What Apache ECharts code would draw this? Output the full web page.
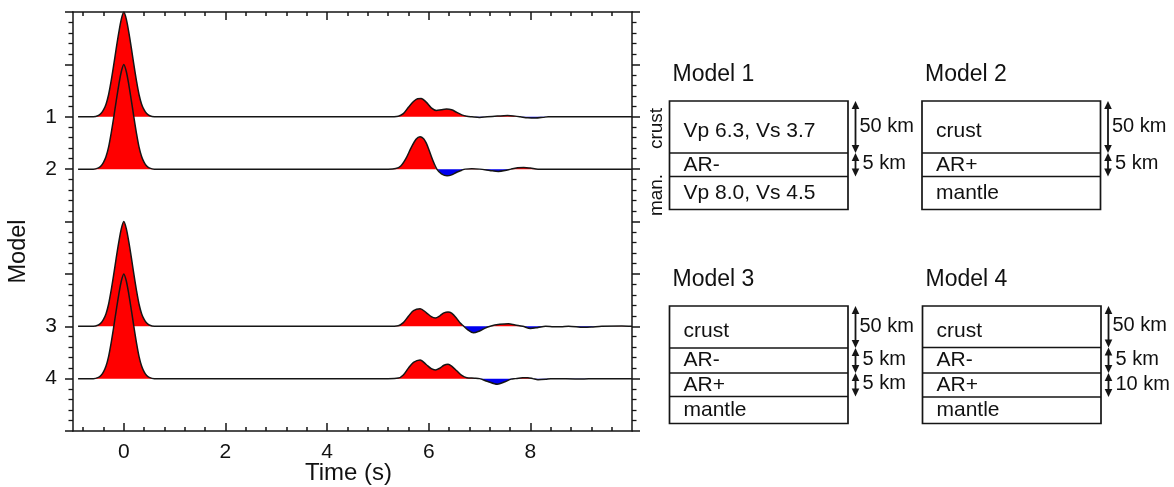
<!DOCTYPE html>
<html>
<head>
<meta charset="utf-8">
<script src="https://cdn.jsdelivr.net/npm/echarts@6/dist/echarts.min.js"></script>
<style>
  html, body { margin: 0; padding: 0; background: #ffffff; }
  #chart { width: 1174px; height: 487px; }
</style>
</head>
<body>
<div id="chart"></div>
<script>
// ---- Synthetic receiver functions: [time (s), amplitude normalised to direct P] ----
const directP = [
  [-0.9, 0], [-0.6, 0], [-0.5, 0.012], [-0.45, 0.03], [-0.4, 0.065], [-0.35, 0.12],
  [-0.3, 0.21], [-0.25, 0.34], [-0.2, 0.49], [-0.15, 0.65], [-0.1, 0.8], [-0.05, 0.93],
  [0, 1], [0.05, 0.93], [0.1, 0.8], [0.15, 0.65], [0.2, 0.49], [0.25, 0.34],
  [0.3, 0.21], [0.35, 0.12], [0.4, 0.065], [0.45, 0.03], [0.5, 0.012], [0.6, 0]
];
const model1Late = [
  [5.2, 0], [5.4, 0.005], [5.5, 0.03], [5.6, 0.09], [5.7, 0.145], [5.78, 0.172], [5.85, 0.174],
  [5.95, 0.14], [6.05, 0.085], [6.15, 0.06], [6.25, 0.067], [6.35, 0.073], [6.45, 0.066],
  [6.55, 0.042], [6.65, 0.018], [6.75, 0.005], [6.85, 0], [7.0, -0.006], [7.15, 0],
  [7.35, 0.006], [7.55, 0.012], [7.7, 0.006], [7.8, 0], [7.95, -0.01], [8.1, -0.013],
  [8.25, -0.006], [8.35, 0], [10, 0]
];
const model2Late = [
  [5.2, 0], [5.35, 0.005], [5.45, 0.03], [5.55, 0.1], [5.65, 0.2], [5.75, 0.285], [5.83, 0.31],
  [5.9, 0.29], [5.95, 0.25], [6.0, 0.19], [6.08, 0.085], [6.16, 0], [6.25, -0.045],
  [6.36, -0.064], [6.45, -0.055], [6.55, -0.03], [6.65, -0.01], [6.72, 0], [6.85, 0.003],
  [7.0, 0], [7.2, -0.012], [7.37, -0.022], [7.5, -0.014], [7.62, 0], [7.75, 0.012],
  [7.87, 0.016], [8.0, 0.01], [8.15, 0], [10, 0]
];
const model3Late = [
  [5.2, 0], [5.4, 0.005], [5.5, 0.035], [5.6, 0.095], [5.7, 0.15], [5.83, 0.168], [5.95, 0.13],
  [6.05, 0.092], [6.13, 0.079], [6.22, 0.1], [6.3, 0.128], [6.38, 0.137], [6.45, 0.125],
  [6.55, 0.075], [6.62, 0.03], [6.69, 0], [6.77, -0.035], [6.88, -0.063], [7.0, -0.045],
  [7.1, -0.02], [7.21, 0], [7.4, 0.018], [7.57, 0.025], [7.7, 0.012], [7.85, 0],
  [8.0, -0.022], [8.15, -0.012], [8.3, 0], [8.45, -0.004], [8.6, -0.005], [8.75, 0],
  [9.05, -0.01], [9.2, -0.007], [9.4, 0], [9.8, 0.003], [10, 0]
];
const model4Late = [
  [5.2, 0], [5.4, 0.005], [5.5, 0.035], [5.6, 0.1], [5.7, 0.155], [5.83, 0.178], [5.95, 0.135],
  [6.05, 0.095], [6.13, 0.083], [6.22, 0.1], [6.3, 0.128], [6.38, 0.137], [6.45, 0.12],
  [6.55, 0.075], [6.65, 0.03], [6.75, 0.008], [6.9, 0.004], [7.0, 0], [7.15, -0.025],
  [7.35, -0.054], [7.5, -0.03], [7.62, -0.005], [7.7, 0], [7.85, 0.008], [7.95, 0.009],
  [8.05, 0], [8.15, -0.01], [8.3, -0.006], [8.4, 0], [9.0, -0.004], [9.3, 0], [10, 0]
];

// Trace baselines on the vertical axis and their labels
const modelOffsets = [1, 2, 5, 6];
const modelLabels = ['1', '2', '3', '4'];

// Time axis ticks and title
const timeMajorTicks = [0, 2, 4, 6, 8];
const timeMinorTicks = [-0.8, -0.4, 0, 0.4, 0.8, 1.2, 1.6, 2, 2.4, 2.8, 3.2, 3.6, 4, 4.4, 4.8,
  5.2, 5.6, 6, 6.4, 6.8, 7.2, 7.6, 8, 8.4, 8.8, 9.2, 9.6];
const timeTitle = 'Time (s)';

// Velocity model sketches
const modelTitles = ['Model 1', 'Model 2', 'Model 3', 'Model 4'];
const modelLayers = [
  ['Vp 6.3, Vs 3.7', 'AR-', 'Vp 8.0, Vs 4.5'],
  ['crust', 'AR+', 'mantle'],
  ['crust', 'AR-', 'AR+', 'mantle'],
  ['crust', 'AR-', 'AR+', 'mantle']
];
const layerThickness = [
  ['50 km', '5 km'],
  ['50 km', '5 km'],
  ['50 km', '5 km', '5 km'],
  ['50 km', '5 km', '10 km']
];
const model1SideLabels = ['crust', 'man.'];

// ---- Layout and style ----
const FONT = "'Liberation Sans', Arial, Helvetica, sans-serif";
const INK = '#151515';
const GAIN = 2;               // axis units per unit of normalised amplitude
const boxLeft = [669.5, 922, 669.5, 922.5];
const boxTop = [101, 101, 306, 306];
const boxWidth = 178.5;
const rowHeights = [
  [52, 23.5, 33],
  [52, 23.5, 33],
  [42, 25, 23.5, 27],
  [41.5, 25.5, 24, 26.5]
];

const traces = [
  directP.concat(model1Late),
  directP.concat(model2Late),
  directP.concat(model3Late),
  directP.concat(model4Late)
];

const series = [];
traces.forEach((tr, i) => {
  const base = modelOffsets[i];
  const toY = a => base - GAIN * a;
  const common = {
    type: 'line', xAxisIndex: 0, yAxisIndex: 0, symbol: 'none', showSymbol: false,
    smooth: 0.3, silent: true, animation: false
  };
  series.push(Object.assign({}, common, {
    name: 'Model ' + (i + 1) + ' positive',
    data: tr.map(([t, a]) => [t, toY(Math.max(a, 0))]),
    lineStyle: { width: 0, opacity: 0 },
    areaStyle: { color: '#ff0000', opacity: 1, origin: base }
  }));
  series.push(Object.assign({}, common, {
    name: 'Model ' + (i + 1) + ' negative',
    data: tr.map(([t, a]) => [t, toY(Math.min(a, 0))]),
    lineStyle: { width: 0, opacity: 0 },
    areaStyle: { color: '#0000f0', opacity: 1, origin: base }
  }));
  series.push(Object.assign({}, common, {
    name: 'Model ' + (i + 1),
    data: tr.map(([t, a]) => [t, toY(a)]),
    lineStyle: { color: INK, width: 1.5 }
  }));
});

// ---- Model sketches on the right ----
function textEl(str, x, y, size, opts) {
  opts = opts || {};
  return {
    type: 'text', x: x, y: y, rotation: opts.rotation || 0, silent: true,
    style: {
      text: str, font: size + 'px ' + FONT, fill: '#111',
      align: opts.align || 'left', verticalAlign: 'middle',
      textAlign: opts.align || 'left', textVerticalAlign: 'middle'
    }
  };
}
function arrowEls(x, y0, y1) {
  const hw = 3.8, hl = 8;
  return [
    { type: 'line', silent: true, shape: { x1: x, y1: y0 + 4, x2: x, y2: y1 - 4 },
      style: { stroke: INK, lineWidth: 1.8 } },
    { type: 'polygon', silent: true, shape: { points: [[x, y0], [x - hw, y0 + hl], [x + hw, y0 + hl]] },
      style: { fill: INK } },
    { type: 'polygon', silent: true, shape: { points: [[x, y1], [x - hw, y1 - hl], [x + hw, y1 - hl]] },
      style: { fill: INK } }
  ];
}

const graphics = [];
modelTitles.forEach((title, m) => {
  const x0 = boxLeft[m], y0 = boxTop[m];
  const hs = rowHeights[m];
  const total = hs.reduce((s, h) => s + h, 0);
  graphics.push(textEl(title, x0 + 3, y0 - 26, 23));
  graphics.push({ type: 'rect', silent: true, shape: { x: x0, y: y0, width: boxWidth, height: total },
    style: { fill: 'none', stroke: INK, lineWidth: 1.7 } });
  let y = y0;
  hs.forEach((h, k) => {
    if (k > 0) {
      graphics.push({ type: 'line', silent: true, shape: { x1: x0, y1: y, x2: x0 + boxWidth, y2: y },
        style: { stroke: INK, lineWidth: 1.4 } });
    }
    graphics.push(textEl(modelLayers[m][k], x0 + 14, y + h / 2 + (k === 0 ? 4 : 0), 21));
    if (k < layerThickness[m].length) {
      const ax = x0 + boxWidth + 7.5;
      arrowEls(ax, y, y + h).forEach(e => graphics.push(e));
      graphics.push(textEl(layerThickness[m][k], ax + (k === 0 ? 4 : 7), y + h / 2 - 1, 20));
    }
    y += h;
  });
});
// Side labels of model 1
{
  const hs = rowHeights[0];
  const y0 = boxTop[0];
  graphics.push(textEl(model1SideLabels[0], 657, y0 + hs[0] / 2 + 1.5, 19,
    { rotation: Math.PI / 2, align: 'center' }));
  graphics.push(textEl(model1SideLabels[1], 657, y0 + hs[0] + hs[1] + hs[2] / 2 + 2, 19,
    { rotation: Math.PI / 2, align: 'center' }));
}
// Time axis title, centred under the plot
graphics.push(textEl(timeTitle, 348.5, 473, 24, { align: 'center' }));

// ---- Axes ----
const lineStyle = { color: INK, width: 1.5 };
const labelStyle = { color: '#111', fontFamily: FONT, fontSize: 21 };

function timeAxis(position, ticks, len, withLine, withLabels) {
  return {
    type: 'value', position: position, offset: 0, min: -1, max: 10,
    axisLine: { show: withLine, onZero: false, lineStyle: lineStyle },
    axisTick: { show: true, inside: true, length: len, customValues: ticks, lineStyle: lineStyle },
    axisLabel: withLabels
      ? Object.assign({ show: true, customValues: ticks, margin: 11, hideOverlap: false }, labelStyle)
      : { show: false },
    splitLine: { show: false }
  };
}

function modelAxis(position, withLabels) {
  return {
    type: 'value', position: position, offset: 0, inverse: true, min: -1, max: 7, interval: 1,
    axisLine: { show: true, onZero: false, lineStyle: lineStyle },
    axisTick: { show: true, inside: false, length: 8, lineStyle: lineStyle },
    minorTick: { show: true, splitNumber: 5, length: 4.5, lineStyle: { color: INK, width: 1.3 } },
    axisLabel: withLabels
      ? Object.assign({
          show: true, customValues: modelOffsets, margin: 16,
          formatter: v => { const k = modelOffsets.indexOf(v); return k >= 0 ? modelLabels[k] : ''; }
        }, labelStyle)
      : { show: false },
    splitLine: { show: false },
    minorSplitLine: { show: false }
  };
}
const yLeft = modelAxis('left', true);
yLeft.name = 'Model';
yLeft.nameLocation = 'middle';
yLeft.nameGap = 42;
yLeft.nameTextStyle = { color: '#111', fontFamily: FONT, fontSize: 23.5, padding: [0, 60, 0, 0] };

const chart = echarts.init(document.getElementById('chart'), null, { renderer: 'canvas' });
chart.setOption({
  animation: false,
  backgroundColor: '#ffffff',
  textStyle: { fontFamily: FONT },
  grid: { left: 73, top: 12, width: 559, height: 419, containLabel: false, outerBoundsMode: 'none' },
  xAxis: [
    timeAxis('bottom', timeMajorTicks, 8, true, true),
    timeAxis('bottom', timeMinorTicks, 4, false, false),
    timeAxis('top', timeMajorTicks, 8, true, false),
    timeAxis('top', timeMinorTicks, 4, false, false)
  ],
  yAxis: [yLeft, modelAxis('right', false)],
  series: series,
  graphic: { elements: graphics }
});
</script>
</body>
</html>
